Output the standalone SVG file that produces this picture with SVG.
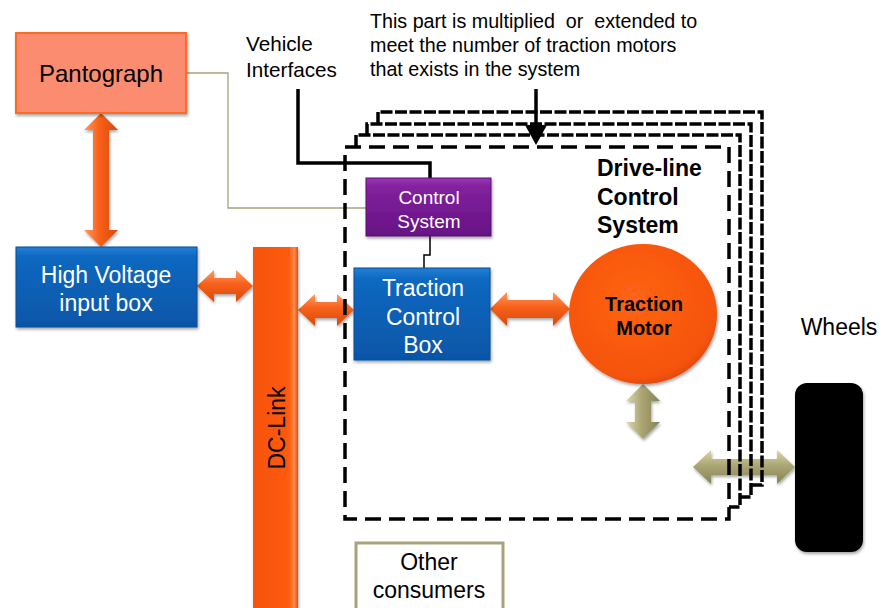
<svg xmlns="http://www.w3.org/2000/svg" width="882" height="608" viewBox="0 0 882 608">
  <defs>
    <linearGradient id="blueFill" x1="0" y1="0" x2="0" y2="1">
      <stop offset="0" stop-color="#2180D8"/>
      <stop offset="0.12" stop-color="#0F68C0"/>
      <stop offset="1" stop-color="#0656A8"/>
    </linearGradient>
    <linearGradient id="purpleFill" x1="0" y1="0" x2="0" y2="1">
      <stop offset="0" stop-color="#9A36B4"/>
      <stop offset="0.15" stop-color="#82229E"/>
      <stop offset="1" stop-color="#661184"/>
    </linearGradient>
    <linearGradient id="dcFill" x1="0" y1="0" x2="1" y2="0">
      <stop offset="0" stop-color="#F55408"/>
      <stop offset="0.8" stop-color="#FF5A0C"/>
      <stop offset="0.92" stop-color="#FF8A4A"/>
      <stop offset="1" stop-color="#E24E08"/>
    </linearGradient>
    <linearGradient id="orangeH" x1="0" y1="0" x2="0" y2="1">
      <stop offset="0" stop-color="#FF9A60"/>
      <stop offset="0.45" stop-color="#F7601A"/>
      <stop offset="1" stop-color="#D84A08"/>
    </linearGradient>
    <linearGradient id="orangeV" x1="0" y1="0" x2="1" y2="0">
      <stop offset="0" stop-color="#FF9A60"/>
      <stop offset="0.45" stop-color="#F7601A"/>
      <stop offset="1" stop-color="#D84A08"/>
    </linearGradient>
    <linearGradient id="oliveH" x1="0" y1="0" x2="0" y2="1">
      <stop offset="0" stop-color="#DCD8AC"/>
      <stop offset="0.45" stop-color="#ABA674"/>
      <stop offset="1" stop-color="#878254"/>
    </linearGradient>
    <linearGradient id="oliveV" x1="0" y1="0" x2="1" y2="0">
      <stop offset="0" stop-color="#DCD8AC"/>
      <stop offset="0.45" stop-color="#ABA674"/>
      <stop offset="1" stop-color="#878254"/>
    </linearGradient>
    <radialGradient id="motorFill" cx="0.45" cy="0.4" r="0.65">
      <stop offset="0" stop-color="#FF6414"/>
      <stop offset="0.85" stop-color="#F55308"/>
      <stop offset="1" stop-color="#D84606"/>
    </radialGradient>
    <filter id="shadow" x="-10%" y="-10%" width="125%" height="130%">
      <feDropShadow dx="1" dy="2" stdDeviation="1.5" flood-color="#000" flood-opacity="0.35"/>
    </filter>
  </defs>
  <style>
    .t { font-family: "Liberation Sans", Arial, sans-serif; }
    .white { fill: #FFFFFF; }
    .blk { fill: #000000; }
    .back { fill: none; stroke: #000; stroke-width: 3.5; stroke-dasharray: 12 2.5; }
    .front { fill: none; stroke: #000; stroke-width: 3.5; stroke-dasharray: 16 8; }
  </style>

  <rect width="882" height="608" fill="#FFFFFF"/>

  <!-- annotation texts -->
  <g id="note-multiplied" class="t" font-size="19.7">
    <text x="370" y="28" xml:space="preserve">This part is multiplied  or  extended to</text>
    <text x="370" y="52">meet the number of traction motors</text>
    <text x="370" y="76">that exists in the system</text>
  </g>
  <g id="vehicle-interfaces" class="t" font-size="20.7">
    <text x="246" y="51">Vehicle</text>
    <text x="246" y="77">Interfaces</text>
  </g>

  <!-- connectors -->
  <g id="connectors">
    <!-- signal lines -->
    <polyline points="186,73 228,73 228,208 366,208" fill="none" stroke="#A8A27A" stroke-width="1.3"/>
    <polyline points="298,89 298,163 430,163 430,179" fill="none" stroke="#000" stroke-width="3.5"/>
    <polyline points="430,236 430,255 424,255 424,268" fill="none" stroke="#000" stroke-width="1.5"/>
    <!-- power flow arrows -->
    <polygon filter="url(#shadow)" fill="url(#orangeV)" points="101,113 118,130 109,130 109,230 118,230 101,247 84,230 93,230 93,130 84,130"/>
    <polygon filter="url(#shadow)" fill="url(#orangeH)" points="197,286 214,270 214,278 236,278 236,270 253,286 236,302 236,294 214,294 214,302"/>
    <polygon filter="url(#shadow)" fill="url(#orangeH)" points="298,310 315,294 315,302 337,302 337,294 354,310 337,326 337,318 315,318 315,326"/>
    <polygon filter="url(#shadow)" fill="url(#orangeH)" points="490,309 507,292 507,300 553,300 553,292 570,309 553,326 553,318 507,318 507,326"/>
    <!-- mechanical arrows -->
    <polygon filter="url(#shadow)" fill="url(#oliveV)" points="643,384 660,401 651,401 651,422 660,422 643,439 626,422 635,422 635,401 626,401"/>
    <polygon filter="url(#shadow)" fill="url(#oliveH)" points="693,467 711,450 711,459 777,459 777,450 795,467 777,484 777,475 711,475 711,484"/>
  </g>

  <!-- stacked drive-line boundaries (repeated per traction motor) -->
  <g id="driveline-boundaries">
    <path class="back" d="M378,124 V112 H762 V485 H751"/>
    <path class="back" d="M367,135 V124 H751 V497 H740"/>
    <path class="back" d="M356,147 V135 H740 V507 H729"/>
    <rect class="front" x="345" y="147" width="384" height="372"/>
    <text class="t blk" font-size="23" font-weight="bold" x="597" y="176">Drive-line</text>
    <text class="t blk" font-size="23" font-weight="bold" x="597" y="205">Control</text>
    <text class="t blk" font-size="23" font-weight="bold" x="597" y="233">System</text>
  </g>

  <!-- pointer to the stacked boundaries -->
  <g id="note-pointer">
    <line x1="536" y1="89" x2="536" y2="128" stroke="#000" stroke-width="3.5"/>
    <polygon points="525,125 547,125 536,145" fill="#000"/>
  </g>

  <g id="pantograph">
    <rect x="16" y="33" width="170" height="80" fill="#FB8C70" stroke="#FF6A22" stroke-width="2" filter="url(#shadow)"/>
    <text class="t blk" font-size="24" x="101" y="82" text-anchor="middle">Pantograph</text>
  </g>

  <g id="hv-input-box">
    <rect x="16" y="247" width="181" height="80" fill="url(#blueFill)" stroke="#0A4C92" stroke-width="1" filter="url(#shadow)"/>
    <text class="t white" font-size="23" x="106" y="283" text-anchor="middle">High Voltage</text>
    <text class="t white" font-size="23" x="106" y="311" text-anchor="middle">input box</text>
  </g>

  <g id="dc-link">
    <rect x="253" y="247" width="45" height="370" fill="url(#dcFill)" filter="url(#shadow)"/>
    <text class="t blk" font-size="23" transform="translate(285,428) rotate(-90)" text-anchor="middle">DC-Link</text>
  </g>

  <g id="control-system">
    <rect x="366" y="178" width="125" height="58" fill="url(#purpleFill)" stroke="#5A0F74" stroke-width="1" filter="url(#shadow)"/>
    <text class="t white" font-size="19" x="429" y="204" text-anchor="middle">Control</text>
    <text class="t white" font-size="19" x="429" y="228" text-anchor="middle">System</text>
  </g>

  <g id="traction-control-box">
    <rect x="354" y="268" width="136" height="92" fill="url(#blueFill)" stroke="#0A4C92" stroke-width="1" filter="url(#shadow)"/>
    <text class="t white" font-size="23" x="423" y="296" text-anchor="middle">Traction</text>
    <text class="t white" font-size="23" x="423" y="325" text-anchor="middle">Control</text>
    <text class="t white" font-size="23" x="423" y="353" text-anchor="middle">Box</text>
  </g>

  <g id="traction-motor">
    <ellipse cx="643" cy="314" rx="74" ry="70" fill="url(#motorFill)" filter="url(#shadow)"/>
    <text class="t blk" font-size="20" font-weight="bold" x="644" y="311" text-anchor="middle">Traction</text>
    <text class="t blk" font-size="20" font-weight="bold" x="644" y="335" text-anchor="middle">Motor</text>
  </g>

  <g id="wheels">
    <text class="t blk" font-size="23" x="839" y="335" text-anchor="middle">Wheels</text>
    <rect x="795" y="383" width="68" height="169" rx="12" fill="#050505" filter="url(#shadow)"/>
  </g>

  <g id="other-consumers">
    <rect x="356" y="543" width="147" height="80" fill="#FFFFFF" stroke="#A8A27A" stroke-width="3"/>
    <text class="t blk" font-size="23" x="429" y="570" text-anchor="middle">Other</text>
    <text class="t blk" font-size="23" x="429" y="598" text-anchor="middle">consumers</text>
  </g>
</svg>
